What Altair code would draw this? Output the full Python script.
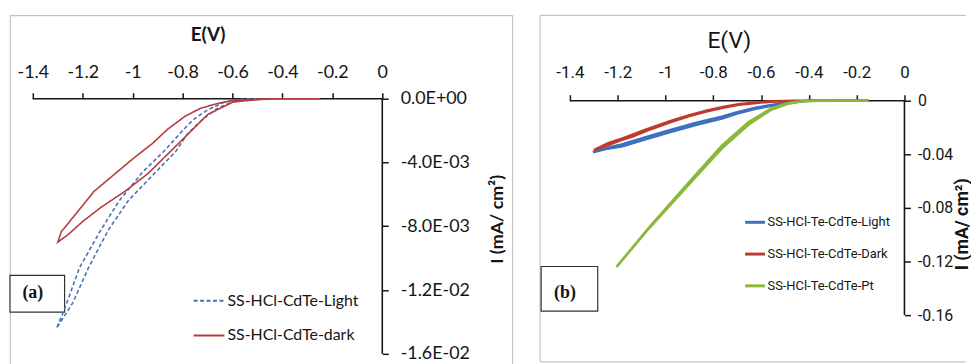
import altair as alt
import pandas as pd

# ---------------- Panel (a) data ----------------
a_series = ["SS-HCl-CdTe-Light", "SS-HCl-CdTe-dark"]
a_colors = ["#4a72b8", "#b83c3c"]
a_light_E = [-0.25, -0.40, -0.50, -0.60, -0.66, -0.716, -0.78, -0.827, -0.92, -1.018, -1.10, -1.177, -1.24, -1.305,
             -1.273, -1.213, -1.13, -1.054, -0.96, -0.875, -0.80, -0.756, -0.70, -0.63, -0.55, -0.30]
a_light_I = [0, 0, 0, -0.0002, -0.0006, -0.00124, -0.0022, -0.0033, -0.0048, -0.0064, -0.0083, -0.0106, -0.0128, -0.0144,
             -0.0132, -0.0106, -0.0083, -0.0064, -0.0046, -0.0033, -0.0020, -0.0013, -0.0007, -0.0002, 0, 0]
a_dark_E = [-0.25, -0.45, -0.597, -0.70, -0.819, -0.939, -1.03, -1.126, -1.20, -1.257, -1.30,
            -1.285, -1.273, -1.154, -1.07, -0.994, -0.92, -0.859, -0.79, -0.728, -0.66, -0.597, -0.45, -0.25]
a_dark_I = [0, 0, -0.0002, -0.0010, -0.00285, -0.0047, -0.0058, -0.0068, -0.0077, -0.0085, -0.0090,
            -0.0083, -0.0081, -0.0058, -0.0047, -0.0037, -0.0028, -0.0019, -0.0011, -0.0006, -0.0003, -0.0001, 0, 0]
a_xticks = [-1.4, -1.2, -1, -0.8, -0.6, -0.4, -0.2, 0]
a_yticks = [0, -0.004, -0.008, -0.012, -0.016]
a_ylabels = ["0.0E+00", "-4.0E-03", "-8.0E-03", "-1.2E-02", "-1.6E-02"]

# ---------------- Panel (b) data ----------------
b_series = ["SS-HCl-Te-CdTe-Light", "SS-HCl-Te-CdTe-Dark", "SS-HCl-Te-CdTe-Pt"]
b_colors = ["#3e6fc0", "#c0392f", "#8cb83a"]
b_light_E = [-0.15, -0.30, -0.40, -0.486, -0.55, -0.623, -0.70, -0.764, -0.87, -0.972, -1.08, -1.18, -1.25, -1.304,
             -1.25, -1.18, -1.08, -0.972, -0.87, -0.764, -0.70, -0.623, -0.55, -0.486, -0.40, -0.20]
b_light_I = [0, 0, 0, -0.0015, -0.0035, -0.006, -0.0095, -0.0133, -0.018, -0.023, -0.0285, -0.034, -0.036, -0.0385,
             -0.0355, -0.0325, -0.027, -0.0215, -0.0165, -0.012, -0.0087, -0.0053, -0.003, -0.0012, 0, 0]
b_dark_E = [-0.15, -0.42, -0.50, -0.557, -0.62, -0.694, -0.76, -0.83, -0.90, -0.972, -1.08, -1.138, -1.18, -1.24, -1.30,
            -1.24, -1.18, -1.08, -0.972, -0.90, -0.83, -0.76, -0.694, -0.62, -0.557, -0.45, -0.20]
b_dark_I = [0, 0, -0.0003, -0.0007, -0.0017, -0.003, -0.0052, -0.0081, -0.0115, -0.0156, -0.0225, -0.0267, -0.029, -0.033, -0.037,
            -0.0318, -0.0282, -0.0215, -0.0148, -0.0108, -0.0075, -0.0048, -0.0027, -0.0014, -0.0005, 0, 0]
b_pt_E = [-0.15, -0.30, -0.42, -0.486, -0.557, -0.652, -0.764, -0.90, -1.068, -1.205,
          -1.068, -0.90, -0.764, -0.652, -0.557, -0.486, -0.42, -0.30, -0.15]
b_pt_I = [0, 0, -0.0003, -0.0022, -0.0067, -0.0178, -0.0356, -0.062, -0.095, -0.124,
          -0.0945, -0.0605, -0.0335, -0.0160, -0.0058, -0.0018, -0.0002, 0, 0]
b_xticks = [-1.4, -1.2, -1, -0.8, -0.6, -0.4, -0.2, 0]
b_yticks = [0, -0.04, -0.08, -0.12, -0.16]


def series_frame(name, E, I):
    return pd.DataFrame({"E": E, "I": I, "series": name, "idx": list(range(len(E)))})


def label_expr(values, labels):
    parts = [f"abs(datum.value - ({v})) < 1e-9 ? '{l}'" for v, l in zip(values, labels)]
    return " : ".join(parts) + " : ''"


ONE = pd.DataFrame({"k": [0]})
INK = "#151515"
FRAME = "#c4c4c4"
BFONT = "Roboto"

# ---------------- Panel (a) ----------------
A_W, A_H = 506, 367
a_df = pd.concat([series_frame(a_series[0], a_light_E, a_light_I),
                  series_frame(a_series[1], a_dark_E, a_dark_I)], ignore_index=True)

ax_a = alt.X("E:Q", scale=alt.Scale(domain=[-1.4915, 0.521], nice=False, zero=False),
             axis=alt.Axis(orient="top", offset=-84, values=a_xticks, domain=False, grid=False,
                           tickSize=6, tickWidth=1.5, tickColor=INK,
                           labelFont="Lato", labelFontSize=18, labelColor=INK, labelPadding=11,
                           labelOverlap=False, labelFlush=False,
                           labelExpr="toString(datum.value)",
                           title="E(V)", titleFont="Lato", titleFontSize=19, titleFontWeight="bold",
                           titleColor=INK, titleX=199, titleY=-65, titleBaseline="middle",
                           titleAlign="center"))
ay_a = alt.Y("I:Q", scale=alt.Scale(domain=[-0.01762, 0.00523], nice=False, zero=False),
             axis=alt.Axis(orient="right", offset=-131, values=a_yticks, domain=False, grid=False,
                           tickSize=6, tickWidth=1.5, tickColor=INK,
                           labelFont="Lato", labelFontSize=18, labelColor=INK, labelPadding=12,
                           labelOverlap=False, labelFlush=False,
                           labelExpr=label_expr(a_yticks, a_ylabels),
                           title="I (mA/ cm²)", titleFont="Lato", titleFontSize=18, titleFontWeight="bold",
                           titleColor=INK, titleX=116, titleY=205, titleAngle=270,
                           titleBaseline="middle", titleAlign="center"))

a_legend = alt.Legend(orient="none", legendX=184, legendY=271, direction="vertical",
                      symbolType="stroke", symbolSize=961, symbolStrokeWidth=2,
                      labelFont="Lato", labelFontSize=16, labelColor=INK, labelOffset=2,
                      rowPadding=10, padding=0)

a_box = alt.Chart(ONE).mark_rect(fill="white", stroke="#333333", strokeWidth=1.2).encode(
    x=alt.value(0), x2=alt.value(55), y=alt.value(262), y2=alt.value(299))
a_box_text = alt.Chart(ONE).mark_text(
    text="(a)", font="Liberation Serif", fontSize=18, fontWeight="bold", color=INK).encode(
    x=alt.value(23), y=alt.value(280))

a_axes_df = pd.DataFrame({"E": [a_xticks[0], 0], "E2": [a_xticks[-1], 0],
                          "I": [0, a_yticks[0]], "I2": [0, a_yticks[-1]]})
a_axes = alt.Chart(a_axes_df).mark_rule(color=INK, strokeWidth=1.6).encode(
    x=ax_a, x2="E2", y=ay_a, y2="I2")

a_lines = alt.Chart(a_df).mark_line(strokeWidth=1.6).encode(
    x=ax_a, y=ay_a, order=alt.Order("idx:Q"),
    color=alt.Color("series:N", scale=alt.Scale(domain=a_series, range=a_colors), legend=a_legend, title=None),
    strokeDash=alt.StrokeDash("series:N", scale=alt.Scale(domain=a_series, range=[[4, 2.5], [1, 0]]),
                              legend=a_legend, title=None),
)

panel_a = alt.layer(a_box, a_box_text, a_axes, a_lines).properties(
    width=A_W, height=A_H, view=alt.ViewBackground(stroke=FRAME, strokeWidth=1.2))

# ---------------- Panel (b) ----------------
B_W, B_H = 429, 349
b_df = pd.concat([series_frame(b_series[0], b_light_E, b_light_I),
                  series_frame(b_series[1], b_dark_E, b_dark_I),
                  series_frame(b_series[2], b_pt_E, b_pt_I)], ignore_index=True)

ax_b = alt.X("E:Q", scale=alt.Scale(domain=[-1.5246, 0.2577], nice=False, zero=False),
             axis=alt.Axis(orient="top", offset=-86, values=b_xticks, domain=False, grid=False,
                           tickSize=6, tickWidth=1.5, tickColor=INK,
                           labelFont=BFONT, labelFontSize=17, labelColor=INK, labelPadding=13,
                           labelOverlap=False, labelFlush=False,
                           labelExpr="toString(datum.value)",
                           title="E(V)", titleFont=BFONT, titleFontSize=23, titleFontWeight="normal",
                           titleColor=INK, titleX=190, titleY=-61, titleBaseline="middle",
                           titleAlign="center"))
ay_b = alt.Y("I:Q", scale=alt.Scale(domain=[-0.1948, 0.0637], nice=False, zero=False),
             axis=alt.Axis(orient="right", offset=-62, values=b_yticks, domain=False, grid=False,
                           tickSize=6, tickWidth=1.5, tickColor=INK,
                           labelFont=BFONT, labelFontSize=16, labelColor=INK, labelPadding=7,
                           labelOverlap=False, labelFlush=False,
                           labelExpr="toString(datum.value)",
                           title="I (mA/ cm²)", titleFont=BFONT, titleFontSize=18, titleFontWeight="bold",
                           titleColor=INK, titleX=58, titleY=210, titleAngle=270,
                           titleBaseline="middle", titleAlign="center"))

b_legend = alt.Legend(orient="none", legendX=205, legendY=197, direction="vertical",
                      symbolType="stroke", symbolSize=400, symbolStrokeWidth=3,
                      labelFont=BFONT, labelFontSize=13, labelColor=INK, labelOffset=1,
                      rowPadding=13, padding=0)

b_box = alt.Chart(ONE).mark_rect(fill="white", stroke="#333333", strokeWidth=1.2).encode(
    x=alt.value(1), x2=alt.value(58), y=alt.value(253), y2=alt.value(298))
b_box_text = alt.Chart(ONE).mark_text(
    text="(b)", font="Liberation Serif", fontSize=18, fontWeight="bold", color=INK).encode(
    x=alt.value(25), y=alt.value(280))

# frame of panel (b): left, top and bottom edges (the right edge lies outside the picture)
b_frame = [
    alt.Chart(ONE).mark_rule(color=FRAME, strokeWidth=1.2).encode(
        x=alt.value(0), x2=alt.value(0), y=alt.value(0), y2=alt.value(B_H)),
    alt.Chart(ONE).mark_rule(color=FRAME, strokeWidth=1.2).encode(
        x=alt.value(0), x2=alt.value(B_W), y=alt.value(0), y2=alt.value(0)),
    alt.Chart(ONE).mark_rule(color=FRAME, strokeWidth=1.2).encode(
        x=alt.value(0), x2=alt.value(B_W), y=alt.value(B_H), y2=alt.value(B_H)),
]

b_axes_df = pd.DataFrame({"E": [b_xticks[0], 0], "E2": [b_xticks[-1], 0],
                          "I": [0, b_yticks[0]], "I2": [0, b_yticks[-1]]})
b_axes = alt.Chart(b_axes_df).mark_rule(color=INK, strokeWidth=1.6).encode(
    x=ax_b, x2="E2", y=ay_b, y2="I2")

b_lines = alt.Chart(b_df).mark_line(strokeWidth=2.6).encode(
    x=ax_b, y=ay_b, order=alt.Order("idx:Q"),
    color=alt.Color("series:N", scale=alt.Scale(domain=b_series, range=b_colors), legend=b_legend, title=None),
)

panel_b = alt.layer(*b_frame, b_box, b_box_text, b_axes, b_lines).properties(
    width=B_W, height=B_H, view=alt.ViewBackground(stroke="transparent", strokeWidth=0))

chart = alt.hconcat(panel_a, panel_b, spacing=26).resolve_scale(
    x="independent", y="independent", color="independent", strokeDash="independent"
).resolve_legend(color="independent", strokeDash="independent").properties(
    padding={"left": 0, "top": 5, "right": 0, "bottom": 0},
    background="white",
)

chart.save("out.html", embed_options={"renderer": "svg", "actions": False})
